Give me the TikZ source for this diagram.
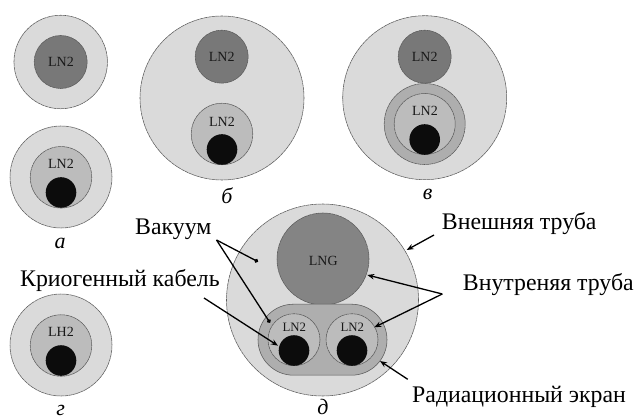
\documentclass[tikz,border=0pt]{standalone}
\usepackage{fontspec}
\setmainfont{Liberation Serif}
\usetikzlibrary{arrows.meta}
\definecolor{cOuter}{HTML}{DADADA}
\definecolor{cDark}{HTML}{787878}
\definecolor{cGas}{HTML}{848484}
\definecolor{cLight}{HTML}{BCBCBC}
\definecolor{cShield}{HTML}{AEAEAE}
\definecolor{cEdge}{HTML}{5A5A5A}
\definecolor{cCable}{HTML}{0C0C0C}
\tikzset{
  pipe/.style={circle,draw=cEdge,line width=0.55pt,dash pattern=on 3.5pt off 0.5pt,inner sep=0pt,minimum size=#1},
  outerpipe/.style={pipe=#1,fill=cOuter},
  darkpipe/.style={pipe=#1,fill=cDark},
  gaspipe/.style={pipe=#1,fill=cGas},
  lightpipe/.style={pipe=#1,fill=cLight},
  shieldpipe/.style={pipe=#1,fill=cShield},
  cable/.style={circle,fill=cCable,inner sep=0pt,minimum size=30.6pt},
  fluid/.style={font=\fontsize{14}{15}\selectfont,inner sep=0pt,text=black!90},
  fluidsmall/.style={font=\fontsize{12.8}{13}\selectfont,inner sep=0pt,text=black!90},
  caption/.style={font=\fontsize{22}{24}\selectfont\itshape,inner sep=0pt,anchor=base},
  callout/.style={font=\fontsize{23.8}{26}\selectfont,inner sep=0pt,anchor=base west},
  leader/.style={line width=1.3pt,black},
  arrowleader/.style={leader,-{Stealth[length=7pt,width=5.5pt]}},
  dotleader/.style={leader,-{Circle[length=4pt]}},
}
\begin{document}
\begin{tikzpicture}[x=1pt,y=-1pt]
\useasboundingbox (0,0) rectangle (636,419);
\fill[white] (0,0) rectangle (636,419);
% a
\node[outerpipe=93.5pt] (a1o) at (60.7,62) {};
\node[darkpipe=53pt] (a1i) at (60.7,62) {};
\node[fluid] (a1t) at (61,62) {LN2};
\node[outerpipe=102pt] (a2o) at (61,177) {};
\node[lightpipe=61.5pt] (a2i) at (61,177.3) {};
\node[cable] (a2c) at (61,192.5) {};
\node[fluid] (a2t) at (61,164.3) {LN2};
\node[caption] (capa) at (60,248) {а};
% b
\node[outerpipe=164pt] (bo) at (222,98) {};
\node[darkpipe=53pt] (bt) at (221.7,56.7) {};
\node[fluid] (btt) at (221.7,57) {LN2};
\node[lightpipe=61.5pt] (bl) at (222,134) {};
\node[cable] (bc) at (222,149.5) {};
\node[fluid] (blt) at (222,121.7) {LN2};
\node[caption] (capb) at (227,204) {б};
% v
\node[outerpipe=164pt] (vo) at (424.7,97.7) {};
\node[darkpipe=53pt] (vt) at (424.7,56.7) {};
\node[fluid] (vtt) at (424.7,57) {LN2};
\node[shieldpipe=81pt] (vs) at (424.7,124) {};
\node[lightpipe=61pt] (vl) at (424.7,124) {};
\node[cable] (vc) at (424.7,139.5) {};
\node[fluid] (vlt) at (425,110.5) {LN2};
\node[caption] (capv) at (427.7,200) {в};
% g
\node[outerpipe=102pt] (go) at (61,345) {};
\node[lightpipe=61.5pt] (gi) at (61,345.5) {};
\node[cable] (gc) at (61,360.5) {};
\node[fluid] (gt) at (61,332.3) {LH2};
\node[caption] (capg) at (60.7,415) {г};
% d
\node[outerpipe=192pt] (do) at (322.5,300) {};
\node[gaspipe=92pt] (dg) at (323,259) {};
\node[fluid] (dgt) at (323.3,260.7) {LNG};
\node[draw=cEdge,line width=0.55pt,fill=cShield,rounded corners=35.5pt,minimum width=129pt,minimum height=71pt,inner sep=0pt] (ds) at (322.5,339.7) {};
\node[lightpipe=52pt] (dl) at (294,339.7) {};
\node[lightpipe=52pt] (dr) at (352,339.7) {};
\node[cable] (dlc) at (294,350.5) {};
\node[cable] (drc) at (352,350.5) {};
\node[fluidsmall] (dlt) at (294.3,327) {LN2};
\node[fluidsmall] (drt) at (352.3,327) {LN2};
\node[caption] (capd) at (323,414) {д};
% callouts
\node[callout] (vac) at (135,234.5) {Вакуум};
\node[callout] (cry) at (20,286.5) {Криогенный кабель};
\node[callout] (ext) at (441.7,230) {Внешняя труба};
\node[callout] (int) at (462.7,290) {Внутреняя труба};
\node[callout] (rad) at (412,402) {Радиационный экран};
\coordinate (vacA) at (216.5,240);
\coordinate (vacB) at (258,261.7);
\coordinate (vacC) at (270,322.7);
\coordinate (cryA) at (204,298);
\coordinate (cryB) at (278,345.7);
\coordinate (extA) at (434,235);
\coordinate (extB) at (406.7,250);
\coordinate (intA) at (442.3,294);
\coordinate (intB) at (367.3,275);
\coordinate (intC) at (374.3,327.3);
\coordinate (radA) at (407.7,379.3);
\coordinate (radB) at (380,361);
\draw[dotleader] (vacA) -- (vacB);
\draw[dotleader] (vacA) -- (vacC);
\draw[arrowleader] (cryA) -- (cryB);
\draw[arrowleader] (extA) -- (extB);
\draw[arrowleader] (intA) -- (intB);
\draw[arrowleader] (intA) -- (intC);
\draw[arrowleader] (radA) -- (radB);
\end{tikzpicture}
\end{document}
